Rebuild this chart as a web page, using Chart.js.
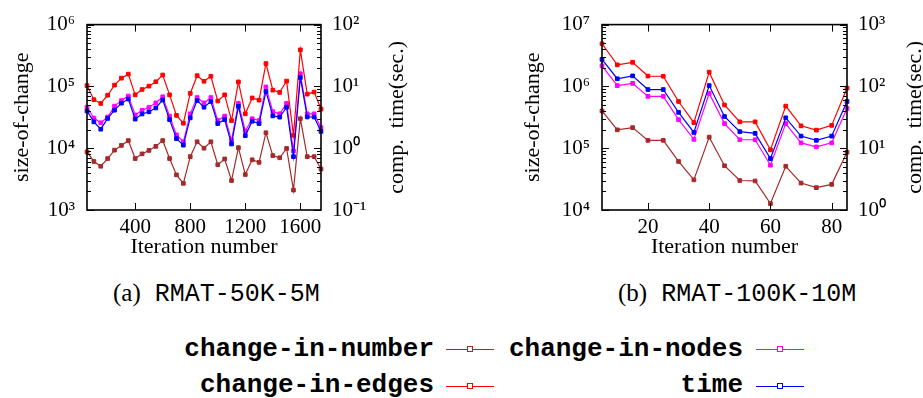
<!DOCTYPE html>
<html>
<head>
<meta charset="utf-8">
<script src="https://cdn.jsdelivr.net/npm/chart.js@4/dist/chart.umd.min.js"></script>
<style>
  body { margin: 0; background: #fff; width: 923px; height: 398px; position: relative; overflow: hidden; }
  .box { position: absolute; top: 0; height: 260px; }
  #boxA { left: 0; width: 420px; }
  #boxB { left: 500px; width: 423px; }
  .cap { position: absolute; top: 278px; font: 25px/30px "Liberation Serif", serif; white-space: nowrap; color: #000; }
  .cap span { font-family: "Liberation Mono", monospace; margin-left: 14px; }
  .leg { position: absolute; font: bold 26px/30px "Liberation Mono", monospace; white-space: nowrap; color: #000; text-align: right; }
  .sample { position: absolute; width: 48px; height: 0; border-top: 1.2px solid; }
  .sample i { position: absolute; left: 21px; top: -3.6px; width: 4px; height: 4px; border: 1px solid; border-color: inherit; background: #fff; }
</style>
</head>
<body>
<div class="box" id="boxA"><canvas id="chartA"></canvas></div>
<div class="box" id="boxB"><canvas id="chartB"></canvas></div>
<div class="cap" style="left:113px">(a)<span>RMAT-50K-5M</span></div>
<div class="cap" style="left:618px">(b)<span>RMAT-100K-10M</span></div>
<div id="legend"></div>

<script>
// series names / colours
const seriesNames = ['change-in-number', 'change-in-edges', 'change-in-nodes', 'time'];
const seriesColors = ['#a52a2a', '#ff0000', '#ff00ff', '#0000ff'];

// (a) RMAT-50K-5M
const iterA = [50, 100, 150, 200, 250, 300, 350, 400, 450, 500, 550, 600, 650, 700, 750, 800, 850, 900,
  950, 1000, 1050, 1100, 1150, 1200, 1250, 1300, 1350, 1400, 1450, 1500, 1550, 1600, 1650, 1700, 1750];
const numberA = [8.7e3, 6.1e3, 5.1e3, 6.8e3, 9.3e3, 1.11e4, 1.33e4, 6.8e3, 8.1e3, 9.2e3, 1.07e4, 1.33e4,
  6.8e3, 3.7e3, 2.7e3, 7.3e3, 1.27e4, 1.0e4, 1.27e4, 5.4e3, 6.7e3, 3.0e3, 1.02e4, 3.75e3,
  6.5e3, 5.9e3, 1.78e4, 7.6e3, 7.0e3, 9.9e3, 2.1e3, 3.0e4, 7.3e3, 7.3e3, 4.6e3];
const edgesA = [1.03e5, 6.1e4, 5.3e4, 7.2e4, 1.05e5, 1.36e5, 1.58e5, 7.3e4, 8.9e4, 1.01e5, 1.19e5, 1.53e5,
  7.3e4, 3.4e4, 2.54e4, 7.7e4, 1.49e5, 1.21e5, 1.46e5, 5.8e4, 7.3e4, 2.8e4, 1.18e5, 3.6e4,
  6.5e4, 6.0e4, 2.34e5, 8.7e4, 8.0e4, 1.22e5, 1.62e4, 3.9e5, 7.5e4, 8.1e4, 4.3e4];
const nodesA = [4.6e4, 3.07e4, 2.58e4, 3.2e4, 4.8e4, 5.9e4, 7.0e4, 3.45e4, 4.1e4, 4.6e4, 5.4e4, 6.8e4,
  3.3e4, 1.64e4, 1.27e4, 3.6e4, 6.6e4, 5.4e4, 6.6e4, 2.8e4, 3.3e4, 1.34e4, 5.3e4, 1.9e4,
  3.0e4, 2.8e4, 9.8e4, 3.9e4, 3.6e4, 5.3e4, 9.0e3, 1.6e5, 3.6e4, 3.6e4, 2.15e4];
const timeA = [4.0, 2.67, 2.03, 3.03, 4.12, 5.35, 6.24, 2.96, 3.58, 3.88, 4.48, 6.03,
  2.9, 1.43, 1.12, 3.1, 5.9, 4.6, 5.7, 2.5, 2.9, 1.17, 4.75, 1.6,
  2.73, 2.5, 8.3, 3.33, 3.18, 4.6, 0.73, 13.9, 3.2, 3.2, 1.87];
const xTicksA = [400, 800, 1200, 1600];

// (b) RMAT-100K-10M
const iterB = [5, 10, 15, 20, 25, 30, 35, 40, 45, 50, 55, 60, 65, 70, 75, 80, 85];
const numberB = [4.0e5, 1.98e5, 2.15e5, 1.34e5, 1.34e5, 6.1e4, 3.07e4, 1.51e5, 5.2e4, 3.0e4, 2.95e4, 1.27e4, 5.1e4, 2.73e4, 2.3e4, 2.6e4, 8.6e4];
const edgesB = [4.9e6, 2.23e6, 2.45e6, 1.47e6, 1.46e6, 5.7e5, 2.6e5, 1.7e6, 5.0e5, 2.67e5, 2.67e5, 9.4e4, 4.8e5, 2.3e5, 1.96e5, 2.34e5, 9.4e5];
const nodesB = [2.15e6, 1.03e6, 1.12e6, 6.9e5, 6.9e5, 2.9e5, 1.39e5, 7.7e5, 2.5e5, 1.37e5, 1.37e5, 5.3e4, 2.5e5, 1.22e5, 1.05e5, 1.22e5, 4.4e5];
const timeB = [273, 133, 148, 89, 89, 38, 18, 103, 32.6, 18.5, 17.4, 6.8, 31, 15.7, 13.4, 15.7, 57];
const xTicksB = [20, 40, 60, 80];

Chart.defaults.font.family = '"Liberation Serif", serif';
Chart.defaults.color = '#000';

const SUP = { '0': '\u2070', '1': '\u00b9', '2': '\u00b2', '3': '\u00b3', '4': '\u2074', '5': '\u2075',
  '6': '\u2076', '7': '\u2077', '8': '\u2078', '9': '\u2079', '-': '\u207b' };

function powLabel(v) {
  const e = String(Math.round(Math.log10(v)));
  return '10' + e.split('').map(c => SUP[c]).join('');
}

// decades lo..hi with minor ticks 2..9
function logTicks(lo, hi) {
  const out = [];
  for (let e = lo; e <= hi; e++) {
    for (let m = 1; m <= 9; m++) {
      if (e === hi && m > 1) break;
      out.push({ value: m * Math.pow(10, e), major: m === 1 });
    }
  }
  return out;
}

// box, inward tick marks and the right-hand title
const framePlugin = {
  id: 'frame',
  afterDraw(chart, args, opts) {
    const { ctx, chartArea: a } = chart;
    ctx.save();
    ctx.strokeStyle = '#000';
    ctx.lineWidth = 1;
    ['y', 'y1'].forEach(id => {
      const s = chart.scales[id];
      const x0 = id === 'y' ? a.left : a.right;
      const dir = id === 'y' ? 1 : -1;
      s.ticks.forEach(t => {
        const py = Math.round(s.getPixelForValue(t.value)) + 0.5;
        const len = t.major ? 7 : 4;
        ctx.beginPath();
        ctx.moveTo(x0, py);
        ctx.lineTo(x0 + dir * len, py);
        ctx.stroke();
      });
    });
    const sx = chart.scales.x;
    sx.ticks.forEach(t => {
      const px = Math.round(sx.getPixelForValue(t.value)) + 0.5;
      ctx.beginPath();
      ctx.moveTo(px, a.bottom); ctx.lineTo(px, a.bottom - 7);
      ctx.moveTo(px, a.top); ctx.lineTo(px, a.top + 7);
      ctx.stroke();
    });
    ctx.lineWidth = 1.6;
    ctx.strokeRect(a.left, a.top, a.right - a.left, a.bottom - a.top);

    ctx.translate(opts.titleX, (a.top + a.bottom) / 2);
    ctx.rotate(-Math.PI / 2);
    ctx.font = '22px "Liberation Serif", serif';
    ctx.fillStyle = '#000';
    ctx.textAlign = 'center';
    ctx.textBaseline = 'middle';
    ctx.fillText('comp.  time(sec.)', 0, 0);
    ctx.restore();
  }
};

function makeChart(id, cfg) {
  const series = [cfg.number, cfg.edges, cfg.nodes, cfg.time];
  const datasets = series.map((d, i) => ({
    label: seriesNames[i],
    data: d,
    yAxisID: i === 3 ? 'y1' : 'y',
    borderColor: seriesColors[i],
    backgroundColor: seriesColors[i],
    borderWidth: 1.2,
    pointStyle: 'rect',
    pointRadius: 2.6,
    pointBorderWidth: 1,
    pointHoverRadius: 2.6,
    tension: 0,
    clip: 6,
    order: i === 3 ? 0 : 1
  }));

  const tickFont = { size: 21 };
  return new Chart(document.getElementById(id), {
    type: 'line',
    data: { labels: cfg.iters, datasets },
    options: {
      responsive: true,
      maintainAspectRatio: false,
      animation: false,
      layout: { padding: { top: 15, left: 0, right: 0, bottom: 0 } },
      plugins: {
        legend: { display: false },
        tooltip: { enabled: false },
        frame: { titleX: cfg.rightTitleX }
      },
      scales: {
        x: {
          type: 'linear',
          min: cfg.xMin,
          max: cfg.xMax,
          grid: { display: false, drawTicks: false },
          border: { display: false },
          afterBuildTicks: s => { s.ticks = cfg.xTicks.map(v => ({ value: v, major: true })); },
          ticks: { font: tickFont, padding: 5, maxRotation: 0, autoSkip: false, callback: v => String(v) },
          title: { display: true, text: 'Iteration number', font: { size: 22 }, padding: 0 },
          afterFit: s => { s.height = 50; }
        },
        y: {
          type: 'logarithmic',
          position: 'left',
          min: Math.pow(10, cfg.leftDec[0]),
          max: Math.pow(10, cfg.leftDec[1]),
          grid: { display: false, drawTicks: false },
          border: { display: false },
          afterBuildTicks: s => { s.ticks = logTicks(cfg.leftDec[0], cfg.leftDec[1]); },
          ticks: {
            font: tickFont, padding: 12, autoSkip: false,
            callback: (v, i, t) => t[i].major ? powLabel(v) : ''
          },
          title: { display: true, text: 'size-of-change', font: { size: 22 }, padding: { top: cfg.leftTitlePad, bottom: 0 } },
          afterFit: s => { s.width = cfg.leftWidth; }
        },
        y1: {
          type: 'logarithmic',
          position: 'right',
          min: Math.pow(10, cfg.rightDec[0]),
          max: Math.pow(10, cfg.rightDec[1]),
          grid: { display: false, drawTicks: false },
          border: { display: false },
          afterBuildTicks: s => { s.ticks = logTicks(cfg.rightDec[0], cfg.rightDec[1]); },
          ticks: {
            font: tickFont, padding: 11, autoSkip: false,
            callback: (v, i, t) => t[i].major ? powLabel(v) : ''
          },
          afterFit: s => { s.width = cfg.rightWidth; }
        }
      }
    },
    plugins: [framePlugin]
  });
}

makeChart('chartA', {
  iters: iterA, number: numberA, edges: edgesA, nodes: nodesA, time: timeA,
  xTicks: xTicksA, xMin: 50, xMax: 1750, leftDec: [3, 6], rightDec: [-1, 2],
  leftWidth: 87, rightWidth: 99, leftTitlePad: 9, rightTitleX: 397
});

makeChart('chartB', {
  iters: iterB, number: numberB, edges: edgesB, nodes: nodesB, time: timeB,
  xTicks: xTicksB, xMin: 5, xMax: 85, leftDec: [4, 7], rightDec: [0, 3],
  leftWidth: 102, rightWidth: 76, leftTitlePad: 20, rightTitleX: 415
});

// legend: two columns, text right-aligned before a line sample
const legendSlots = [
  { s: 0, right: 434, line: 446, top: 334, y: 349 },
  { s: 2, right: 743, line: 756, top: 334, y: 349 },
  { s: 1, right: 434, line: 446, top: 370, y: 386 },
  { s: 3, right: 743, line: 756, top: 370, y: 386 }
];
const legend = document.getElementById('legend');
legendSlots.forEach(slot => {
  const t = document.createElement('div');
  t.className = 'leg';
  t.style.right = (923 - slot.right) + 'px';
  t.style.top = slot.top + 'px';
  t.textContent = seriesNames[slot.s];
  legend.appendChild(t);
  const l = document.createElement('div');
  l.className = 'sample';
  l.style.left = slot.line + 'px';
  l.style.top = slot.y + 'px';
  l.style.borderColor = seriesColors[slot.s];
  l.appendChild(document.createElement('i'));
  legend.appendChild(l);
});
</script>
</body>
</html>
